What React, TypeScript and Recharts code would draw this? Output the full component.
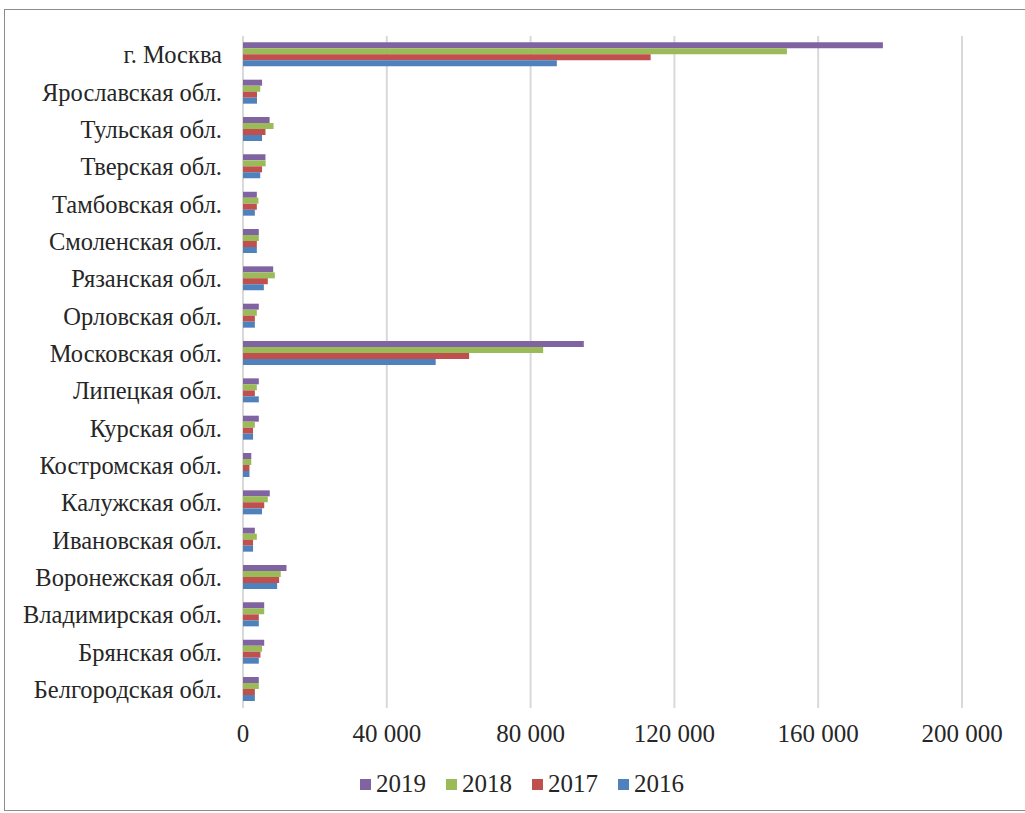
import React from "react";
import { BarChart, Bar, XAxis, YAxis, CartesianGrid, Legend } from "recharts";

// Regions of the Central Federal District, top to bottom
const regions = [
  "г. Москва",
  "Ярославская обл.",
  "Тульская обл.",
  "Тверская обл.",
  "Тамбовская обл.",
  "Смоленская обл.",
  "Рязанская обл.",
  "Орловская обл.",
  "Московская обл.",
  "Липецкая обл.",
  "Курская обл.",
  "Костромская обл.",
  "Калужская обл.",
  "Ивановская обл.",
  "Воронежская обл.",
  "Владимирская обл.",
  "Брянская обл.",
  "Белгородская обл.",
];

const values2019 = [178000, 5300, 7400, 6250, 3850, 4400, 8400, 4400, 94800, 4400, 4400, 2300, 7450, 3300, 12100, 5900, 5900, 4400];
const values2018 = [151300, 4800, 8500, 6300, 4300, 4400, 8850, 3850, 83500, 3850, 3300, 2300, 6900, 3850, 10500, 5900, 5300, 4400];
const values2017 = [113400, 3900, 6250, 5300, 3850, 3850, 6900, 3300, 62900, 3300, 2800, 1800, 5900, 2800, 10050, 4400, 4850, 3300];
const values2016 = [87300, 3900, 5300, 4800, 3300, 3850, 5800, 3300, 53600, 4400, 2800, 1800, 5300, 2800, 9500, 4400, 4400, 3300];

const xTicks = [0, 40000, 80000, 120000, 160000, 200000];

const series = [
  { key: "y2019", name: "2019", color: "#8064A2", values: values2019 },
  { key: "y2018", name: "2018", color: "#9BBB59", values: values2018 },
  { key: "y2017", name: "2017", color: "#C0504D", values: values2017 },
  { key: "y2016", name: "2016", color: "#4F81BD", values: values2016 },
];

const data = regions.map((region, i) => {
  const row: Record<string, string | number> = { region };
  series.forEach((s) => {
    row[s.key] = s.values[i];
  });
  return row;
});

const FONT = "'Liberation Serif', 'Times New Roman', serif";

const formatThousands = (v: number) =>
  v === 0 ? "0" : String(v).replace(/\B(?=(\d{3})+(?!\d))/g, " ");

// Legend entries follow the series order (2019 first)
const LegendContent = () => (
  <div style={{ display: "flex", fontFamily: FONT, fontSize: 25, color: "#262626" }}>
    {series.map((s) => (
      <div key={s.key} style={{ display: "flex", alignItems: "center", width: 86 }}>
        <span
          style={{
            display: "inline-block",
            width: 11,
            height: 11,
            background: s.color,
            marginRight: 5,
          }}
        />
        <span>{s.name}</span>
      </div>
    ))}
  </div>
);

export default function App() {
  return (
    <div style={{ position: "absolute", left: 0, top: 0, width: 1025, height: 813, overflow: "hidden", background: "#fff" }}>
      <div
        style={{
          position: "absolute",
          left: 4,
          top: 9,
          width: 1100,
          height: 800,
          border: "1px solid #8c8c8c",
        }}
      />
      <div style={{ position: "absolute", left: 0, top: 0 }}>
        <BarChart
          width={1025}
          height={813}
          data={data}
          layout="vertical"
          margin={{ top: 36, right: 63, bottom: 37, left: 0 }}
          barCategoryGap="17%"
          barGap={0}
        >
          <CartesianGrid horizontal={false} stroke="#d9d9d9" strokeWidth={2} />
          <XAxis
            type="number"
            domain={[0, 200000]}
            ticks={xTicks}
            tickFormatter={formatThousands}
            axisLine={false}
            tickLine={false}
            tickSize={0}
            tickMargin={16}
            height={40}
            tick={{ fontFamily: FONT, fontSize: 25, fill: "#262626" }}
          />
          <YAxis
            type="category"
            dataKey="region"
            width={243}
            axisLine={false}
            tickLine={false}
            tickSize={0}
            tickMargin={21}
            interval={0}
            tick={{ fontFamily: FONT, fontSize: 24.5, fill: "#262626" }}
          />
          <Legend
            content={<LegendContent />}
            wrapperStyle={{ position: "absolute", left: 360, top: 770, width: 400 }}
          />
          {series.map((s) => (
            <Bar key={s.key} dataKey={s.key} name={s.name} fill={s.color} isAnimationActive={false} />
          ))}
        </BarChart>
      </div>
    </div>
  );
}
